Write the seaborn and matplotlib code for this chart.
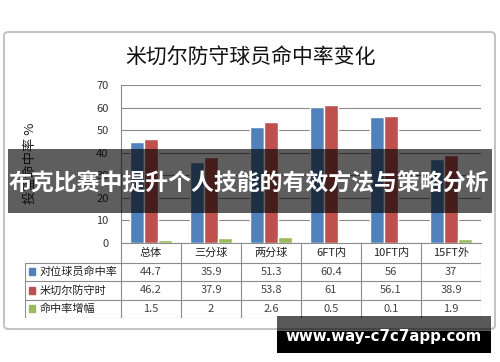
import numpy as np
import pandas as pd
import matplotlib
matplotlib.use('Agg')
import matplotlib.pyplot as plt
import seaborn as sns
from matplotlib.patches import Rectangle, FancyBboxPatch

categories = ['总体', '三分球', '两分球', '6FT内', '10FT内', '15FT外']
series_names = ['对位球员命中率', '米切尔防守时', '命中率增幅']
opp_pct = [44.7, 35.9, 51.3, 60.4, 56, 37]
mitchell_pct = [46.2, 37.9, 53.8, 61, 56.1, 38.9]
increase = [1.5, 2, 2.6, 0.5, 0.1, 1.9]
colors = ['#4F81BD', '#C0504D', '#9BBB59']

title = '米切尔防守球员命中率变化'
ylabel = '投篮命中率 %'
banner = '布克比赛中提升个人技能的有效方法与策略分析'
watermark = 'www.way-c7c7app.com'

sns.set_theme(style='white')
plt.rcParams['font.family'] = ['Noto Sans CJK SC', 'DejaVu Sans']

W, H = 500, 362


def fr(x0, y0, x1, y1):
    # pixel box (top-left origin) -> figure rect
    return [x0 / W, 1 - y1 / H, (x1 - x0) / W, (y1 - y0) / H]


df = pd.DataFrame({
    'cat': categories * 3,
    'series': sum([[s] * len(categories) for s in series_names], []),
    'val': opp_pct + mitchell_pct + increase,
})

fig = plt.figure(figsize=(W / 100, H / 100), dpi=100)
fig.patch.set_facecolor('white')

# chart frame
fig.add_artist(FancyBboxPatch((4 / W, 1 - 329 / H), 491 / W, 297 / H,
                              boxstyle='round,pad=0,rounding_size=0.01',
                              transform=fig.transFigure, fill=False,
                              edgecolor='#c4c4c4', lw=1.5, zorder=0.5))

ax = fig.add_axes(fr(121, 85, 481, 243))
sns.barplot(data=df, x='cat', y='val', hue='series', palette=colors,
            width=0.7, ax=ax, legend=False, saturation=1, zorder=3)
ax.set_xlim(-0.5, len(categories) - 0.5)
ax.set_ylim(0, 70)
ax.set_yticks(np.arange(0, 71, 10))
ax.tick_params(axis='y', labelsize=8, colors='#333333', length=0, pad=9)
ax.set_xticks([])
ax.set_xlabel('')
ax.set_ylabel('')
ax.yaxis.grid(True, color='#8c8c8c', lw=0.8)
ax.set_axisbelow(True)
for side in ['top', 'right']:
    ax.spines[side].set_visible(False)
ax.spines['left'].set_color('#8c8c8c')
ax.spines['bottom'].set_color('#8c8c8c')
ax.spines['left'].set_linewidth(0.8)
ax.spines['bottom'].set_linewidth(0.8)

fig.text(250 / W, 1 - 57 / H, title, ha='center', va='center', fontsize=15, color='#111111')
fig.text(30 / W, 1 - 163 / H, ylabel, ha='center', va='center', rotation=90, fontsize=9.5, color='#222222')

# data table
tax = fig.add_axes(fr(25, 244, 481, 318))
tax.set_xlim(-2.1, len(categories) - 0.5)
tax.set_ylim(4, 0)
tax.axis('off')
lc = '#8c8c8c'
for r in range(1, 5):
    tax.plot([-2.1, len(categories) - 0.5], [r, r], color=lc, lw=0.8)
for c in range(len(categories) + 1):
    tax.plot([c - 0.5, c - 0.5], [0, 4], color=lc, lw=0.8)
tax.plot([-2.1, -2.1], [1, 4], color=lc, lw=0.8)
for i, cat in enumerate(categories):
    tax.text(i, 0.5, cat, ha='center', va='center', fontsize=8, color='#222222')
rows = [opp_pct, mitchell_pct, increase]
for r, (name, vals, col) in enumerate(zip(series_names, rows, colors)):
    y = r + 1.5
    tax.add_patch(Rectangle((-2.03, y - 0.2), 0.1, 0.4, color=col))
    tax.text(-1.86, y, name, ha='left', va='center', fontsize=8, color='#222222')
    for i, v in enumerate(vals):
        tax.text(i, y, f'{v:g}', ha='center', va='center', fontsize=8, color='#444444')

# overlay banner
fig.add_artist(Rectangle((8 / W, 1 - 213 / H), 484 / W, 64 / H, transform=fig.transFigure,
                         facecolor='black', alpha=0.63, lw=0, zorder=10))
fig.text(249 / W, 1 - 184 / H, banner, ha='center', va='center', fontsize=16.5,
         fontweight='bold', color='white', zorder=11)

# watermark
fig.add_artist(Rectangle((277 / W, 1 - 331 / H), 214 / W, 15 / H, transform=fig.transFigure,
                         facecolor='black', alpha=0.65, lw=0, zorder=10))
fig.add_artist(Rectangle((277 / W, 1 - 353 / H), 214 / W, 22 / H, transform=fig.transFigure,
                         facecolor='black', lw=0, zorder=10))
fig.text(384 / W, 1 - 337 / H, watermark, ha='center', va='center', fontsize=10.8,
         fontweight='bold', color='white', family=['DejaVu Sans'], zorder=11)

fig.savefig('out.png', dpi=100, facecolor='white')
